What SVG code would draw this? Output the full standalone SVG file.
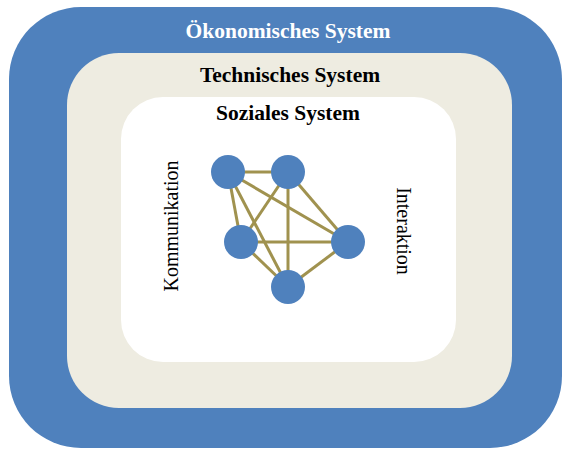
<svg xmlns="http://www.w3.org/2000/svg" width="563" height="450" viewBox="0 0 563 450">
  <style>
    .title { font-family: "Liberation Serif", "Times New Roman", serif; font-weight: bold; font-size: 21.5px; text-anchor: middle; }
    .side { font-family: "Liberation Serif", "Times New Roman", serif; font-size: 20px; text-anchor: middle; fill: #000; }
    .edge { stroke: #A0924F; stroke-width: 3; fill: none; }
    .node { fill: #4F81BD; }
  </style>
  <rect width="563" height="450" fill="#FFFFFF"/>

  <!-- nested system layers -->
  <g id="oekonomisches-system">
    <rect x="9" y="7" width="553" height="441" rx="72" ry="72" fill="#4F81BD"/>
    <text class="title" x="288" y="38" fill="#FFFFFF">Ökonomisches System</text>
  </g>
  <g id="technisches-system">
    <rect x="67" y="53" width="445" height="355" rx="52" ry="52" fill="#EEECE1"/>
    <text class="title" x="290" y="82" fill="#000000">Technisches System</text>
  </g>
  <g id="soziales-system">
    <rect x="121" y="97" width="335" height="265" rx="42" ry="42" fill="#FFFFFF"/>
    <text class="title" x="288" y="120" fill="#000000">Soziales System</text>
  </g>

  <!-- side labels -->
  <text class="side" transform="translate(178,226) rotate(-90)">Kommunikation</text>
  <text class="side" transform="translate(397,231) rotate(90)">Interaktion</text>

  <!-- connectors: complete graph between the five actors -->
  <g id="connectors">
    <line class="edge" x1="228" y1="172" x2="288" y2="172"/>
    <line class="edge" x1="228" y1="172" x2="241" y2="242"/>
    <line class="edge" x1="228" y1="172" x2="348" y2="242"/>
    <line class="edge" x1="228" y1="172" x2="288" y2="287"/>
    <line class="edge" x1="288" y1="172" x2="241" y2="242"/>
    <line class="edge" x1="288" y1="172" x2="348" y2="242"/>
    <line class="edge" x1="288" y1="172" x2="288" y2="287"/>
    <line class="edge" x1="241" y1="242" x2="348" y2="242"/>
    <line class="edge" x1="241" y1="242" x2="288" y2="287"/>
    <line class="edge" x1="348" y1="242" x2="288" y2="287"/>
  </g>

  <g id="node-a"><circle class="node" cx="228" cy="172" r="17"/></g>
  <g id="node-b"><circle class="node" cx="288" cy="172" r="17"/></g>
  <g id="node-c"><circle class="node" cx="241" cy="242" r="17"/></g>
  <g id="node-d"><circle class="node" cx="348" cy="242" r="17"/></g>
  <g id="node-e"><circle class="node" cx="288" cy="287" r="17"/></g>
</svg>
